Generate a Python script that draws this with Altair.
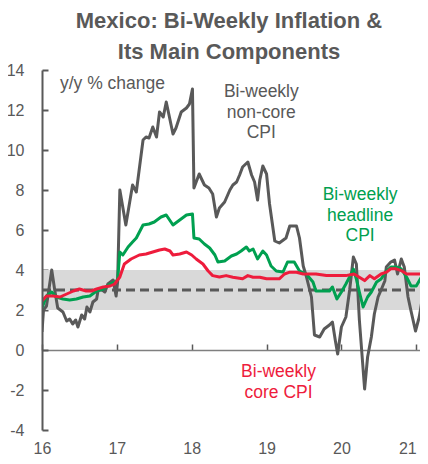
import altair as alt
import pandas as pd

TITLE = ["Mexico: Bi-Weekly Inflation &", "Its Main Components"]
X_DOMAIN = [16, 21.05]
Y_DOMAIN = [-4, 14]
X_TICKS = [16, 17, 18, 19, 20, 21]
Y_TICKS = [-4, -2, 0, 2, 4, 6, 8, 10, 12, 14]
TARGET_LOW, TARGET_MID, TARGET_HIGH = 2, 3, 4

noncore_t = [16.00, 16.02, 16.06, 16.13, 16.17, 16.21, 16.28, 16.33, 16.37, 16.41, 16.45, 16.48,
             16.53, 16.57, 16.60, 16.64, 16.68, 16.73, 16.75, 16.79, 16.84, 16.88, 16.95, 16.99,
             17.01, 17.04, 17.12, 17.21, 17.26, 17.35, 17.39, 17.43, 17.48, 17.53, 17.57, 17.62,
             17.66, 17.75, 17.79, 17.86, 17.93, 17.97, 18.01, 18.03, 18.10, 18.17, 18.23, 18.28,
             18.33, 18.37, 18.44, 18.51, 18.55, 18.60, 18.64, 18.68, 18.75, 18.80, 18.84, 18.88,
             18.91, 18.95, 19.00, 19.04, 19.11, 19.17, 19.26, 19.31, 19.40, 19.44, 19.49, 19.53,
             19.60, 19.64, 19.71, 19.77, 19.84, 19.88, 19.92, 19.95, 20.00, 20.06, 20.11, 20.16,
             20.20, 20.24, 20.31, 20.35, 20.40, 20.44, 20.49, 20.53, 20.58, 20.60, 20.66, 20.71,
             20.75, 20.80, 20.84, 20.89, 20.93, 20.99, 21.04, 21.10, 21.15]
noncore_v = [0.9, 2.0, 2.2, 4.0, 3.0, 2.1, 1.9, 1.45, 1.55, 1.3, 1.5, 1.15,
             1.75, 1.55, 2.15, 1.9, 2.4, 2.55, 3.0, 3.05, 2.9, 3.3, 3.5, 2.7,
             3.4, 8.0, 6.25, 8.25, 7.9, 10.5, 10.65, 10.6, 11.15, 10.65, 11.9, 11.65,
             12.4, 10.8, 11.1, 11.9, 12.1, 12.3, 13.05, 8.1, 8.8, 8.25, 8.1, 7.8,
             6.65, 7.1, 7.4, 8.0, 8.25, 8.4, 8.75, 9.15, 9.4, 8.75, 8.4, 7.5,
             8.5, 9.2, 8.8, 7.3, 5.45, 5.35, 5.6, 6.2, 6.2, 5.6, 4.2, 3.7,
             2.65, 0.75, 0.65, 1.05, 1.25, 1.4, 0.45, -0.2, 1.15, 1.65, 3.0, 4.65,
             4.3, 1.5, -1.95, -0.35, 0.65, 1.8, 2.65, 3.0, 3.45, 4.15, 4.4, 4.5,
             3.8, 4.55, 4.15, 2.65, 1.95, 0.95, 1.65, 3.0, 3.8]

headline_t = [16.00, 16.06, 16.13, 16.19, 16.28, 16.37, 16.46, 16.55, 16.64, 16.73, 16.82, 16.91,
              16.99, 17.01, 17.04, 17.08, 17.15, 17.21, 17.26, 17.35, 17.43, 17.50, 17.59, 17.66,
              17.75, 17.84, 17.93, 18.01, 18.03, 18.10, 18.17, 18.24, 18.31, 18.35, 18.44, 18.53,
              18.60, 18.66, 18.73, 18.77, 18.82, 18.88, 18.95, 19.00, 19.06, 19.13, 19.22, 19.28,
              19.37, 19.44, 19.53, 19.62, 19.66, 19.75, 19.84, 19.88, 19.94, 20.00, 20.06, 20.13,
              20.16, 20.20, 20.24, 20.29, 20.35, 20.40, 20.47, 20.53, 20.60, 20.66, 20.73, 20.80,
              20.87, 20.93, 21.00, 21.07, 21.15]
headline_v = [2.1, 2.7, 2.9, 2.65, 2.55, 2.5, 2.55, 2.65, 2.7, 2.95, 3.05, 3.3,
              3.45, 3.5, 4.9, 4.75, 5.15, 5.4, 5.6, 6.25, 6.3, 6.4, 6.65, 6.75,
              6.25, 6.5, 6.75, 6.8, 5.6, 5.55, 5.3, 5.1, 4.75, 4.4, 4.45, 4.7,
              4.8, 4.95, 5.15, 4.95, 5.05, 4.55, 4.95, 4.75, 4.2, 3.95, 3.9, 4.4,
              4.4, 3.95, 3.8, 3.4, 2.95, 2.95, 2.95, 3.15, 2.55, 2.9, 3.3, 3.8,
              4.05, 3.55, 2.9, 2.15, 2.65, 2.9, 3.4, 3.55, 3.95, 4.15, 4.15, 4.05,
              3.65, 3.2, 3.2, 3.65, 3.9]

core_t = [16.00, 16.06, 16.15, 16.24, 16.33, 16.42, 16.50, 16.59, 16.66, 16.73, 16.82, 16.91,
          16.97, 17.04, 17.10, 17.19, 17.30, 17.39, 17.48, 17.57, 17.64, 17.71, 17.75, 17.84,
          17.93, 18.00, 18.06, 18.15, 18.22, 18.28, 18.37, 18.46, 18.55, 18.68, 18.75, 18.82,
          18.91, 19.00, 19.08, 19.17, 19.24, 19.31, 19.40, 19.49, 19.58, 19.66, 19.80, 19.93,
          20.06, 20.17, 20.24, 20.31, 20.38, 20.44, 20.53, 20.60, 20.66, 20.73, 20.80, 20.87,
          20.96, 21.04, 21.15]
core_v = [2.45, 2.7, 2.7, 2.65, 2.8, 2.95, 3.05, 2.95, 2.95, 3.05, 3.15, 3.2,
          3.3, 3.65, 4.3, 4.55, 4.75, 4.8, 4.9, 5.0, 5.05, 4.95, 4.75, 4.8,
          4.9, 4.75, 4.55, 4.3, 3.95, 3.72, 3.65, 3.72, 3.64, 3.56, 3.72, 3.64,
          3.64, 3.56, 3.56, 3.56, 3.8, 3.89, 3.89, 3.8, 3.8, 3.8, 3.72, 3.72,
          3.72, 3.8, 3.64, 3.47, 3.72, 3.56, 3.8, 3.89, 4.06, 4.06, 3.97, 3.8,
          3.8, 3.8, 3.85]

# annotation texts with positions (years, %) of their first line
note_text = "y/y % change"
note_pos = (16.24, 13.3)
label_texts = ["Bi-weekly\nnon-core\nCPI", "Bi-weekly\nheadline\nCPI", "Bi-weekly\ncore CPI"]
label_t = [18.93, 20.25, 19.16]
label_v = [12.88, 7.73, -1.12]

GRAY = "#595959"
GREEN = "#00a050"
RED = "#ee1c3c"
label_colors = [GRAY, GREEN, RED]
FONT = "Liberation Sans"
W, H = 378, 360

xs = alt.Scale(domain=X_DOMAIN, nice=False, zero=False)
ys = alt.Scale(domain=Y_DOMAIN, nice=False, zero=False)
zero_offset = -H * (Y_DOMAIN[1] - 0) / (Y_DOMAIN[1] - Y_DOMAIN[0])
last_tick = X_TICKS[-1]

band_df = pd.DataFrame({"x0": [X_DOMAIN[0]], "x1": [X_DOMAIN[1]],
                        "lo": [TARGET_LOW], "hi": [TARGET_HIGH], "mid": [TARGET_MID]})

band = alt.Chart(band_df).mark_rect(color="#d9d9d9").encode(
    x=alt.X("x0:Q", scale=xs, axis=alt.Axis(
        orient="bottom", values=X_TICKS, labelExpr="'' + datum.value", domain=False, ticks=False,
        grid=False, labelPadding=10, labelBaseline="top", labelFontSize=16, labelColor=GRAY,
        labelFont=FONT, title=None,
        labelAlign={"condition": {"test": f"datum.value == {last_tick}", "value": "right"},
                    "value": "center"})),
    x2="x1:Q",
    y=alt.Y("lo:Q", scale=ys, axis=alt.Axis(
        orient="left", values=Y_TICKS, labelExpr="'' + datum.value", domain=True, domainColor=GRAY,
        domainWidth=2, ticks=False, grid=False, labelPadding=18, labelFontSize=16,
        labelColor=GRAY, labelFont=FONT, title=None, zindex=1)),
    y2="hi:Q",
)

dash = alt.Chart(band_df).mark_rule(color=GRAY, strokeWidth=3, strokeDash=[9, 5]).encode(
    x=alt.X("x0:Q", scale=xs, axis=alt.Axis(
        orient="top", offset=zero_offset, values=X_TICKS, labels=False, ticks=True, tickSize=6,
        tickColor=GRAY, tickWidth=1.5, domain=True, domainColor="#7f7f7f", domainWidth=1.5,
        grid=False, title=None)),
    x2="x1:Q",
    y=alt.Y("mid:Q", scale=ys, axis=alt.Axis(
        orient="right", offset=-W, values=Y_TICKS, labels=False, ticks=True, tickSize=6,
        tickColor=GRAY, tickWidth=2, domain=False, grid=False, title=None)),
)


def series(t, v, color):
    df = pd.DataFrame({"t": t, "v": v})
    return alt.Chart(df).mark_line(color=color, strokeWidth=3, strokeJoin="round", clip=True).encode(
        x=alt.X("t:Q", scale=xs, axis=None),
        y=alt.Y("v:Q", scale=ys, axis=None),
    )


noncore = series(noncore_t, noncore_v, GRAY)
headline = series(headline_t, headline_v, GREEN)
core = series(core_t, core_v, RED)

note = alt.Chart(pd.DataFrame({"t": [note_pos[0]], "v": [note_pos[1]], "s": [note_text]})).mark_text(
    align="left", baseline="middle", fontSize=17.5, font=FONT, color=GRAY
).encode(
    x=alt.X("t:Q", scale=xs, axis=None), y=alt.Y("v:Q", scale=ys, axis=None), text="s:N"
)

labels = alt.Chart(pd.DataFrame({"t": label_t, "v": label_v, "s": label_texts, "c": label_colors})).mark_text(
    align="center", baseline="middle", fontSize=17.5, font=FONT, lineBreak="\n", lineHeight=20.5
).encode(
    x=alt.X("t:Q", scale=xs, axis=None), y=alt.Y("v:Q", scale=ys, axis=None), text="s:N",
    color=alt.Color("c:N", scale=None),
)

chart = alt.layer(band, dash, noncore, headline, core, note, labels).resolve_axis(
    x="independent", y="independent"
).properties(
    width=W, height=H,
    title=alt.TitleParams(text=TITLE, fontSize=22, fontWeight="bold", color=GRAY, font=FONT,
                          anchor="middle", dx=-2, offset=-2, lineHeight=31),
    padding={"left": 34, "top": 62, "right": 0, "bottom": 26},
    autosize=alt.AutoSizeParams(type="none"),
).configure_view(stroke=None)

chart.save("out.html", embed_options={"renderer": "svg", "actions": False})
